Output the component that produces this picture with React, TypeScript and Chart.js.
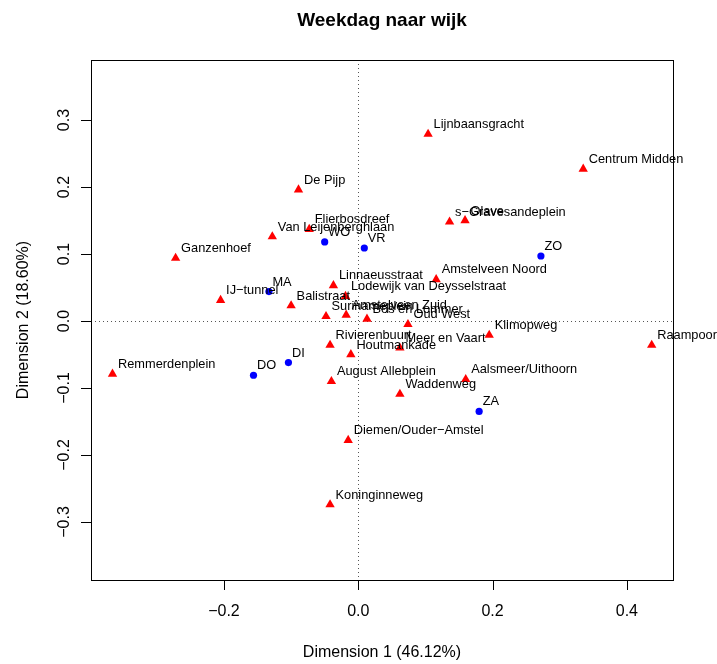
import { useEffect, useRef } from "react";
import { Chart, registerables } from "chart.js";

Chart.register(...registerables);

// Weekdays (column points of the correspondence analysis)
const dayLabels = ["MA", "DI", "WO", "DO", "VR", "ZA", "ZO"];
const dayDim1 = [-0.133, -0.104, -0.050, -0.156, 0.009, 0.180, 0.272];
const dayDim2 = [0.044, -0.062, 0.118, -0.081, 0.109, -0.135, 0.097];

// Neighbourhoods (row points)
const wijkLabels = [
  "Lijnbaansgracht",
  "Centrum Midden",
  "De Pijp",
  "s\u2212Gravesandeplein",
  "Olave",
  "Flierbosdreef",
  "Van Leijenberghlaan",
  "Ganzenhoef",
  "Amstelveen Noord",
  "Linnaeusstraat",
  "Lodewijk van Deysselstraat",
  "IJ\u2212tunnel",
  "Balistraat",
  "Surinameplein",
  "Amstelveen Zuid",
  "Bos en Lommer",
  "Oud West",
  "Klimopweg",
  "Raampoort",
  "Rivierenbuurt",
  "Meer en Vaart",
  "Houtmankade",
  "Remmerdenplein",
  "August Allebplein",
  "Aalsmeer/Uithoorn",
  "Waddenweg",
  "Diemen/Ouder\u2212Amstel",
  "Koninginneweg",
];
const wijkDim1 = [
  0.104, 0.335, -0.089, 0.136, 0.159, -0.073, -0.128, -0.272, 0.116, -0.037,
  -0.019, -0.205, -0.100, -0.048, -0.018, 0.013, 0.074, 0.195, 0.437, -0.042,
  0.062, -0.011, -0.366, -0.040, 0.160, 0.062, -0.015, -0.042,
];
const wijkDim2 = [
  0.279, 0.227, 0.196, 0.148, 0.150, 0.137, 0.126, 0.094, 0.062, 0.053,
  0.037, 0.031, 0.023, 0.007, 0.009, 0.003, -0.005, -0.021, -0.036, -0.036,
  -0.040, -0.050, -0.079, -0.090, -0.087, -0.109, -0.178, -0.274,
];

const xTicks = [-0.2, 0, 0.2, 0.4];
const yTicks = [-0.3, -0.2, -0.1, 0, 0.1, 0.2, 0.3];
const xRange = [-0.398, 0.4687];
const yRange = [-0.3866, 0.3896];

const title = "Weekdag naar wijk";
const xTitle = "Dimension 1 (46.12%)";
const yTitle = "Dimension 2 (18.60%)";

const FONT = '"Liberation Sans", Arial, Helvetica, sans-serif';

const fmt = (v: number) => (v < -1e-9 ? "\u2212" : "") + Math.abs(v).toFixed(1);

const labelSets: { labels: string[]; dx: number }[] = [
  { labels: dayLabels, dx: 3.5 },
  { labels: wijkLabels, dx: 5.5 },
];

const framePlugin = {
  id: "caFrame",
  beforeDatasetsDraw(chart: any) {
    const { ctx, chartArea: a, scales } = chart;
    const x0 = Math.round(scales.x.getPixelForValue(0)) + 0.5;
    const y0 = Math.round(scales.y.getPixelForValue(0)) + 0.5;
    ctx.save();
    ctx.strokeStyle = "#555";
    ctx.lineWidth = 1;
    ctx.setLineDash([1, 3]);
    ctx.beginPath();
    ctx.moveTo(a.left, y0);
    ctx.lineTo(a.right, y0);
    ctx.moveTo(x0, a.top);
    ctx.lineTo(x0, a.bottom);
    ctx.stroke();
    ctx.restore();
  },
  afterDatasetsDraw(chart: any) {
    const { ctx } = chart;
    ctx.save();
    ctx.fillStyle = "#000";
    ctx.font = `12.8px ${FONT}`;
    ctx.textAlign = "left";
    ctx.textBaseline = "alphabetic";
    labelSets.forEach((set, i) => {
      const meta = chart.getDatasetMeta(i);
      meta.data.forEach((el: any, j: number) => {
        ctx.fillText(set.labels[j], el.x + set.dx, el.y - 6);
      });
    });
    ctx.restore();
  },
  afterDraw(chart: any) {
    const { ctx, chartArea: a, scales } = chart;
    const xs = scales.x;
    const ys = scales.y;
    ctx.save();
    ctx.strokeStyle = "#000";
    ctx.lineWidth = 1;
    ctx.strokeRect(a.left + 0.5, a.top + 0.5, a.right - a.left, a.bottom - a.top);
    ctx.beginPath();
    xTicks.forEach((v) => {
      const px = Math.round(xs.getPixelForValue(v)) + 0.5;
      ctx.moveTo(px, a.bottom);
      ctx.lineTo(px, a.bottom + 10);
    });
    yTicks.forEach((v) => {
      const py = Math.round(ys.getPixelForValue(v)) + 0.5;
      ctx.moveTo(a.left, py);
      ctx.lineTo(a.left - 10, py);
    });
    ctx.stroke();

    ctx.fillStyle = "#000";
    ctx.font = `16px ${FONT}`;
    ctx.textAlign = "center";
    ctx.textBaseline = "alphabetic";
    xTicks.forEach((v) => ctx.fillText(fmt(v), xs.getPixelForValue(v), a.bottom + 36));
    yTicks.forEach((v) => {
      ctx.save();
      ctx.translate(a.left - 22, ys.getPixelForValue(v));
      ctx.rotate(-Math.PI / 2);
      ctx.fillText(fmt(v), 0, 0);
      ctx.restore();
    });
    ctx.fillText(xTitle, (a.left + a.right) / 2, a.bottom + 77);
    ctx.save();
    ctx.translate(a.left - 63, (a.top + a.bottom) / 2);
    ctx.rotate(-Math.PI / 2);
    ctx.fillText(yTitle, 0, 0);
    ctx.restore();

    ctx.font = `bold 19px ${FONT}`;
    ctx.fillText(title, (a.left + a.right) / 2, 26);
    ctx.restore();
  },
};

export default function App() {
  const canvasRef = useRef<HTMLCanvasElement | null>(null);

  useEffect(() => {
    const canvas = canvasRef.current;
    if (!canvas) return;
    const chart = new Chart(canvas, {
      type: "scatter",
      data: {
        datasets: [
          {
            label: "Weekdag",
            data: dayDim1.map((x, i) => ({ x, y: dayDim2[i] })),
            pointStyle: "circle",
            pointRadius: 3.6,
            backgroundColor: "#0000FF",
            borderWidth: 0,
          },
          {
            label: "Wijk",
            data: wijkDim1.map((x, i) => ({ x, y: wijkDim2[i] })),
            pointStyle: "triangle",
            pointRadius: 5.4,
            backgroundColor: "#FF0000",
            borderWidth: 0,
          },
        ],
      },
      options: {
        responsive: false,
        animation: false,
        layout: { padding: { left: 91, right: 44, top: 60, bottom: 84 } },
        scales: {
          x: { type: "linear", display: false, min: xRange[0], max: xRange[1] },
          y: { type: "linear", display: false, min: yRange[0], max: yRange[1] },
        },
        plugins: {
          legend: { display: false },
          tooltip: { enabled: false },
        },
      },
      plugins: [framePlugin],
    });
    return () => chart.destroy();
  }, []);

  return (
    <div style={{ position: "absolute", left: 0, top: 0, width: 717, height: 664, background: "#fff" }}>
      <canvas ref={canvasRef} width={717} height={664} style={{ display: "block" }} />
    </div>
  );
}
